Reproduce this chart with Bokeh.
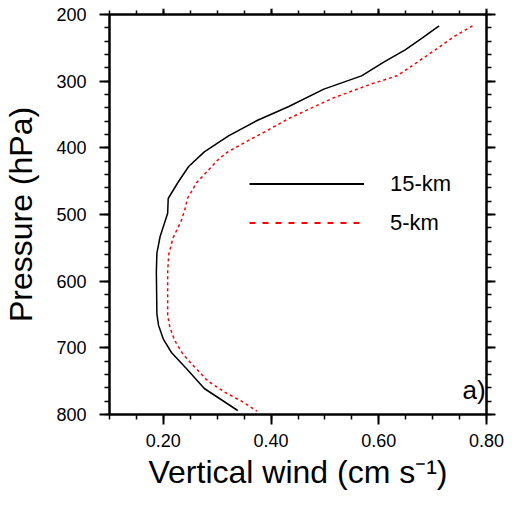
from bokeh.plotting import figure
from bokeh.models import (Range1d, LinearAxis, FixedTicker, Legend, LegendItem, Label,
                          ColumnDataSource)
from bokeh.embed import file_html
from bokeh.resources import INLINE

# ---- data ----
p15 = [217, 235, 253, 271, 292, 312, 338, 359, 382, 406, 428, 452, 476, 498,
       533, 558, 586, 649, 666, 687, 707, 732, 761, 794]
v15 = [0.712, 0.681, 0.649, 0.610, 0.568, 0.498, 0.433, 0.374, 0.321, 0.276,
       0.247, 0.227, 0.209, 0.208, 0.194, 0.188, 0.187, 0.188, 0.191, 0.200,
       0.215, 0.244, 0.276, 0.338]

p5 = [217, 233, 253, 273, 292, 304, 325, 356, 377, 392, 407, 419, 434, 452,
      477, 487, 510, 535, 560, 586, 651, 669, 689, 709, 727, 750, 767, 780, 795]
v5 = [0.774, 0.740, 0.705, 0.669, 0.634, 0.587, 0.516, 0.433, 0.386, 0.351,
      0.318, 0.300, 0.283, 0.262, 0.244, 0.242, 0.233, 0.218, 0.210, 0.208,
      0.208, 0.212, 0.221, 0.236, 0.256, 0.283, 0.315, 0.345, 0.374]

x_major = [0.2, 0.4, 0.6, 0.8]
x_minor = [0.10, 0.15, 0.20, 0.25, 0.30, 0.35, 0.40, 0.45, 0.50, 0.55, 0.60,
           0.65, 0.70, 0.75, 0.80]
x_labels = {0.2: "0.20", 0.4: "0.40", 0.6: "0.60", 0.8: "0.80"}
y_major = [200, 300, 400, 500, 600, 700, 800]
y_minor = list(range(200, 801, 20))

series_names = ["15-km", "5-km"]
x_title = "Vertical wind (cm s\u207b\u00b9)"
y_title = "Pressure (hPa)"
panel_tag = "a)"

FONT = "Liberation Sans"
NAN = float("nan")

p = figure(width=511, height=492, output_backend="svg", toolbar_location=None,
           x_range=Range1d(0.1, 0.8), y_range=Range1d(800, 200),
           min_border_left=0, min_border_right=0, min_border_top=0,
           min_border_bottom=0, x_axis_location=None, y_axis_location=None)
p.grid.visible = False
p.outline_line_color = "black"
p.outline_line_width = 2
p.background_fill_color = "white"
p.border_fill_color = "white"


def style(ax):
    ax.axis_line_width = 2
    ax.axis_line_color = "black"
    ax.major_tick_line_width = 2
    ax.minor_tick_line_width = 1.5
    ax.major_tick_in = 0
    ax.minor_tick_in = 0
    ax.major_tick_out = 10
    ax.minor_tick_out = 5
    ax.major_label_text_font = FONT
    ax.major_label_text_color = "black"
    ax.major_label_text_font_size = "18px"
    ax.axis_label_text_font = FONT
    ax.axis_label_text_font_style = "normal"
    ax.axis_label_text_color = "black"
    ax.axis_label_text_font_size = "32px"


xb = LinearAxis(ticker=FixedTicker(ticks=x_major, minor_ticks=x_minor),
                major_label_overrides=x_labels)
style(xb)
xb.major_label_standoff = 9
xb.axis_label = x_title
xb.axis_label_standoff = 4
p.add_layout(xb, "below")

yl = LinearAxis(ticker=FixedTicker(ticks=y_major, minor_ticks=y_minor))
style(yl)
yl.major_label_standoff = 13
yl.axis_label = y_title
yl.axis_label_standoff = 14
p.add_layout(yl, "left")

# mirrored frame axes: ticks only (labels drawn in white, so not seen)
xa = LinearAxis(ticker=FixedTicker(ticks=x_major, minor_ticks=x_minor))
style(xa)
xa.major_label_text_font_size = "8px"
xa.major_label_text_color = "white"
xa.major_label_standoff = 0
xa.major_tick_out = 6
xa.minor_tick_out = 4
p.add_layout(xa, "above")

yr = LinearAxis(ticker=FixedTicker(ticks=y_major, minor_ticks=y_minor))
style(yr)
yr.major_label_text_font_size = "8px"
yr.major_label_text_color = "white"
yr.major_label_standoff = 0
yr.major_tick_out = 9
yr.minor_tick_out = 5
p.add_layout(yr, "right")

src15 = ColumnDataSource(dict(x=v15, y=p15))
src5 = ColumnDataSource(dict(x=v5, y=p5))
p.line("x", "y", source=src15, line_color="black", line_width=1.5)
p.line("x", "y", source=src5, line_color="#ff0000", line_width=1.5, line_dash="3 3")

# legend-only renderers (longer dashes, as in the reference key)
leg15 = p.line(x=[NAN, NAN], y=[NAN, NAN], line_color="black", line_width=2)
leg5 = p.line(x=[NAN, NAN], y=[NAN, NAN], line_color="#ff0000", line_width=2,
              line_dash="6 7")

legend = Legend(items=[LegendItem(label=series_names[0], renderers=[leg15]),
                       LegendItem(label=series_names[1], renderers=[leg5])],
                location=(140, 172), orientation="vertical",
                glyph_width=115, glyph_height=39, label_height=39,
                label_standoff=26, spacing=0, padding=0, margin=0,
                border_line_color=None, background_fill_alpha=0,
                label_text_font=FONT, label_text_font_size="22px",
                label_text_color="black")
p.add_layout(legend, "center")

p.add_layout(Label(x=353, y=25, x_units="screen", y_units="screen", text=panel_tag,
                   text_font=FONT, text_font_size="26px", text_color="black",
                   text_baseline="alphabetic"))

open("out.html", "w").write(file_html(p, INLINE))
